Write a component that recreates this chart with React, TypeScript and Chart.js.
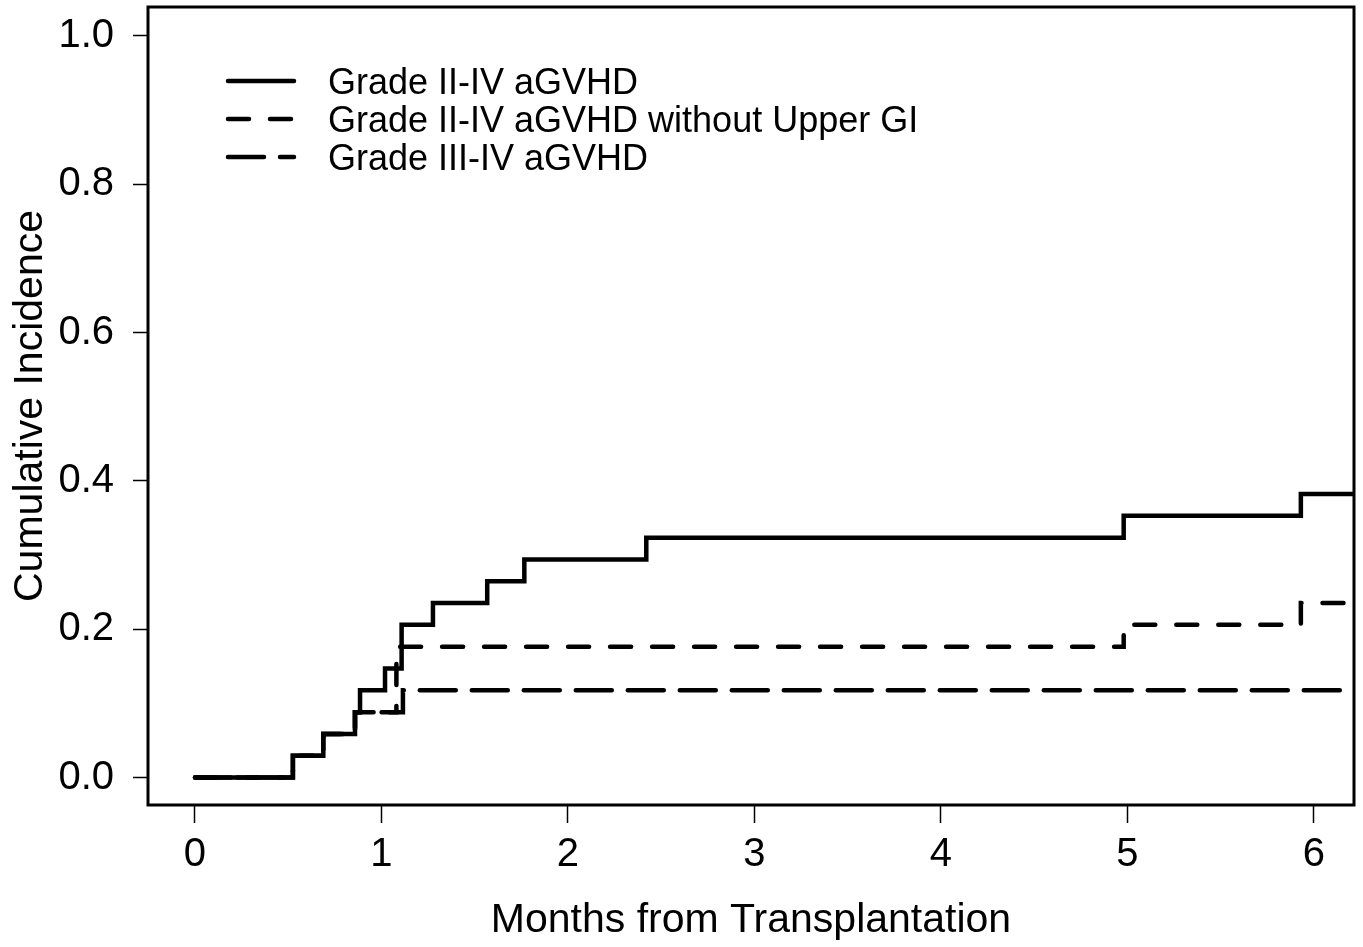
import React, { useEffect, useRef } from "react";
import { Chart, registerables } from "chart.js";

Chart.register(...registerables);

// ---- data ----
const seriesLabels = [
  "Grade II-IV aGVHD",
  "Grade II-IV aGVHD without Upper GI",
  "Grade III-IV aGVHD",
];

const timesAll = [0, 0.525, 0.688, 0.858, 0.885, 1.019, 1.108, 1.276, 1.567, 1.766, 2.42, 4.98, 5.93, 6.3];
const valuesAll = [0, 0.0294, 0.0588, 0.0882, 0.1176, 0.1471, 0.2059, 0.2353, 0.2647, 0.2941, 0.3235, 0.3529, 0.3824, 0.3824];

const timesNoUpperGI = [0, 0.525, 0.688, 0.858, 1.08, 4.98, 5.93, 6.3];
const valuesNoUpperGI = [0, 0.0294, 0.0588, 0.0882, 0.1765, 0.2059, 0.2353, 0.2353];

const timesSevere = [0, 0.525, 0.688, 0.858, 1.115, 6.3];
const valuesSevere = [0, 0.0294, 0.0588, 0.0882, 0.1176, 0.1176];

const xTicks = [0, 1, 2, 3, 4, 5, 6];
const yTicks = [0, 0.2, 0.4, 0.6, 0.8, 1.0];

const xTitle = "Months from Transplantation";
const yTitle = "Cumulative Incidence";

const FONT = "'Liberation Sans', Arial, Helvetica, sans-serif";

const toPoints = (xs: number[], ys: number[]) => xs.map((x, i) => ({ x, y: ys[i] }));

export default function App() {
  const ref = useRef<HTMLCanvasElement>(null);

  useEffect(() => {
    document.body.style.margin = "0";
    const canvas = ref.current;
    if (!canvas) return;

    const legendPlugin = {
      id: "insetLegend",
      afterDraw(chart: any) {
        const ctx = chart.ctx;
        ctx.save();
        chart.data.datasets.forEach((ds: any, i: number) => {
          const y = 81 + i * 38;
          ctx.beginPath();
          ctx.setLineDash(ds.borderDash || []);
          ctx.lineWidth = ds.borderWidth;
          ctx.lineCap = ds.borderCapStyle;
          ctx.strokeStyle = ds.borderColor;
          ctx.moveTo(228, y);
          ctx.lineTo(294, y);
          ctx.stroke();
          ctx.setLineDash([]);
          ctx.fillStyle = "#000";
          ctx.font = `36px ${FONT}`;
          ctx.textBaseline = "middle";
          ctx.textAlign = "left";
          ctx.fillText(ds.label, 328, y + 3);
        });
        ctx.restore();
      },
    };

    const boxPlugin = {
      id: "plotBox",
      afterDatasetsDraw(chart: any) {
        const { left, top, right, bottom } = chart.chartArea;
        const ctx = chart.ctx;
        ctx.save();
        ctx.strokeStyle = "#000";
        ctx.lineWidth = 3;
        ctx.strokeRect(left, top, right - left, bottom - top);
        ctx.restore();
      },
    };

    const common = {
      borderColor: "#000",
      borderWidth: 4.5,
      borderCapStyle: "round",
      borderJoinStyle: "miter",
      pointRadius: 0,
      fill: false,
      stepped: "before",
      clip: 0,
    };

    const chart = new Chart(canvas, {
      type: "line",
      data: {
        datasets: [
          { ...common, label: seriesLabels[0], data: toPoints(timesAll, valuesAll), borderDash: [] },
          { ...common, label: seriesLabels[1], data: toPoints(timesNoUpperGI, valuesNoUpperGI), borderDash: [21, 21] },
          { ...common, label: seriesLabels[2], data: toPoints(timesSevere, valuesSevere), borderDash: [36, 16] },
        ] as any,
      },
      options: {
        animation: false,
        responsive: false,
        layout: { padding: { top: 7, right: 9, left: 0, bottom: 0 } },
        plugins: { legend: { display: false }, tooltip: { enabled: false } },
        scales: {
          x: {
            type: "linear",
            min: -0.252,
            max: 6.215,
            afterBuildTicks: (s: any) => {
              s.ticks = xTicks.map((v) => ({ value: v }));
            },
            afterFit: (s: any) => {
              s.height = 142;
              s.paddingLeft = 0;
              s.paddingRight = 0;
            },
            ticks: {
              autoSkip: false,
              maxRotation: 0,
              color: "#000",
              padding: 8,
              font: { family: FONT, size: 40 },
              callback: (v: any) => String(v),
            },
            grid: {
              display: true,
              drawOnChartArea: false,
              drawTicks: true,
              tickLength: 18,
              tickWidth: 1.5,
              tickColor: "#000",
            },
            border: { display: false },
            title: {
              display: true,
              text: xTitle,
              color: "#000",
              font: { family: FONT, size: 41 },
              padding: { top: 0, bottom: 2 },
            },
          },
          y: {
            type: "linear",
            min: -0.037,
            max: 1.039,
            afterBuildTicks: (s: any) => {
              s.ticks = yTicks.map((v) => ({ value: v }));
            },
            afterFit: (s: any) => {
              s.width = 148;
              s.paddingTop = 0;
              s.paddingBottom = 0;
            },
            ticks: {
              autoSkip: false,
              color: "#000",
              padding: 19,
              font: { family: FONT, size: 40 },
              callback: (v: any) => Number(v).toFixed(1),
            },
            grid: {
              display: true,
              drawOnChartArea: false,
              drawTicks: true,
              tickLength: 15,
              tickWidth: 1.5,
              tickColor: "#000",
            },
            border: { display: false },
            title: {
              display: true,
              text: yTitle,
              color: "#000",
              font: { family: FONT, size: 41 },
              padding: { top: 6, bottom: 0 },
            },
          },
        },
      } as any,
      plugins: [boxPlugin, legendPlugin],
    });

    return () => chart.destroy();
  }, []);

  return (
    <div style={{ width: 1363, height: 947 }}>
      <canvas ref={ref} width={1363} height={947} style={{ display: "block" }} />
    </div>
  );
}
